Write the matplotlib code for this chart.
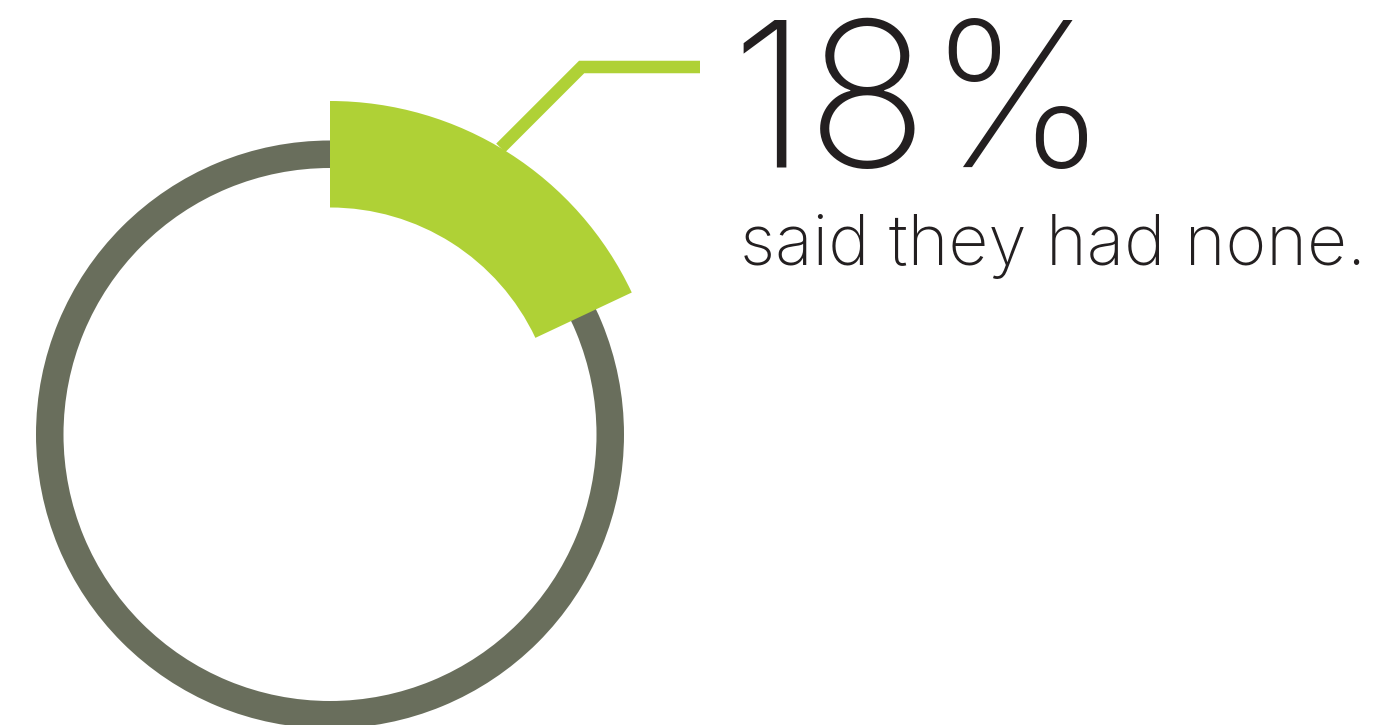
import numpy as np
import matplotlib
matplotlib.use('Agg')
import matplotlib.pyplot as plt
from matplotlib.patches import Wedge

# survey answer shown on the ring
share_none = 18            # percent who said they had none
headline = '18%'
caption = 'said they had none.'

green = '#afd136'
grey = '#696e5c'
ink = '#231f20'

W, H = 1388, 725
fig = plt.figure(figsize=(W / 100, H / 100), dpi=100)
ax = fig.add_axes([0, 0, 1, 1])
ax.set_xlim(0, W)
ax.set_ylim(0, H)
ax.axis('off')

# ring geometry (pixels)
cx, cy = 330, H - 434.5
ring_r, ring_w = 294, 27.5
hi_r, hi_w = 333.5, 106.5

# full grey ring, then the highlighted share on top, clockwise from 12 o'clock
ax.add_patch(Wedge((cx, cy), ring_r, 0, 360, width=ring_w, color=grey, lw=0))
end = 90 - 360 * share_none / 100
ax.add_patch(Wedge((cx, cy), hi_r, end, 90, width=hi_w, color=green, lw=0))

# leader line from the outer edge of the highlight to the label
a = np.deg2rad(90 - 360 * share_none / 100 * 0.475)
x0, y0 = cx + hi_r * np.cos(a), cy + hi_r * np.sin(a)
ly = H - 67
x1 = x0 + (ly - y0)
ax.plot([x0, x1, 700], [y0, ly, ly], color=green, lw=9, solid_joinstyle='miter',
        solid_capstyle='butt')

ax.text(730, H - 167, headline, fontsize=145, family='Inter', weight='light',
        color=ink, ha='left', va='baseline')
ax.text(740, H - 265, caption, fontsize=50, family='Inter', weight='light',
        color=ink, ha='left', va='baseline')

fig.savefig('out.png', dpi=100, facecolor='white')
